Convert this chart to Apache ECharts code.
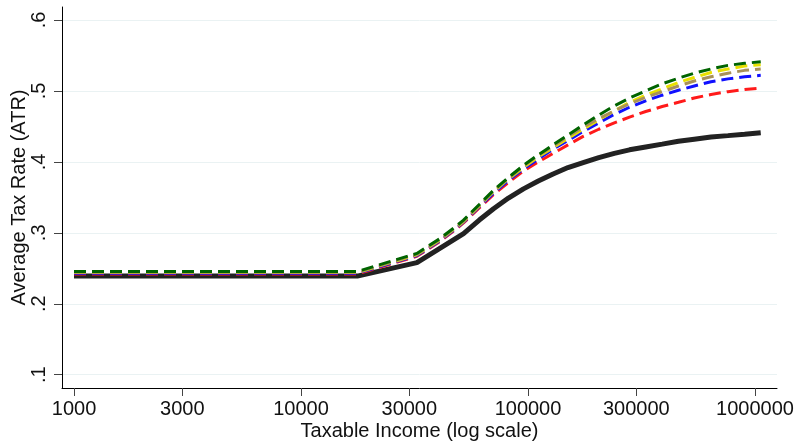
<!DOCTYPE html>
<html>
<head>
<meta charset="utf-8">
<script src="https://cdn.jsdelivr.net/npm/echarts@6/dist/echarts.min.js"></script>
<style>
  html, body { margin: 0; padding: 0; background: #fff; }
  #chart { width: 796px; height: 443px; }
</style>
</head>
<body>
<div id="chart"></div>
<script>
// taxable income points (dashed series share one grid, black has its own)
const incomeDashed = [1000, 17700, 32400, 41000, 48500, 52000, 61000, 70500, 82000, 95500,
  111000, 129000, 150000, 175000, 205000, 240000, 280000, 330000, 390000, 460000,
  540000, 640000, 760000, 900000, 1060000];
const incomeBlack = [1000, 17700, 32400, 52000, 61000, 70500, 82000, 95500,
  111000, 129000, 150000, 175000, 205000, 240000, 280000, 330000, 390000, 460000,
  540000, 640000, 760000, 900000, 1060000];

const atrRed = [0.242, 0.242, 0.267, 0.288, 0.306, 0.314, 0.335, 0.354, 0.371, 0.387,
  0.400, 0.412, 0.424, 0.436, 0.446, 0.455, 0.463, 0.471, 0.478, 0.484,
  0.490, 0.495, 0.499, 0.502, 0.504];
const atrBlue = [0.243, 0.243, 0.268, 0.289, 0.307, 0.315, 0.337, 0.356, 0.374, 0.390,
  0.404, 0.418, 0.430, 0.443, 0.455, 0.467, 0.477, 0.486, 0.494, 0.501,
  0.507, 0.513, 0.517, 0.520, 0.522];
const atrYellow = [0.244, 0.244, 0.269, 0.290, 0.308, 0.316, 0.338, 0.358, 0.376, 0.392,
  0.407, 0.420, 0.433, 0.446, 0.459, 0.472, 0.484, 0.494, 0.503, 0.512,
  0.519, 0.526, 0.531, 0.535, 0.537];
const atrTan = [0.2445, 0.2445, 0.270, 0.291, 0.309, 0.317, 0.339, 0.359, 0.377, 0.394,
  0.409, 0.422, 0.436, 0.449, 0.461, 0.472, 0.482, 0.491, 0.499, 0.507,
  0.514, 0.520, 0.525, 0.529, 0.531];
const atrGreen = [0.2455, 0.2455, 0.271, 0.292, 0.310, 0.318, 0.340, 0.360, 0.378, 0.395,
  0.410, 0.424, 0.438, 0.452, 0.466, 0.479, 0.490, 0.500, 0.510, 0.518,
  0.525, 0.531, 0.536, 0.539, 0.541];
const atrBlack = [0.239, 0.239, 0.258, 0.299, 0.318, 0.334, 0.349, 0.362,
  0.373, 0.383, 0.392, 0.399, 0.406, 0.412, 0.417, 0.421, 0.425, 0.429,
  0.432, 0.435, 0.437, 0.439, 0.441];

const xTicks = [1000, 3000, 10000, 30000, 100000, 300000, 1000000];
const yTicks = [0.1, 0.2, 0.3, 0.4, 0.5, 0.6];

const font = "'Liberation Sans', Arial, sans-serif";

const pairs = (xs, ys) => xs.map((x, i) => [Math.log10(x), ys[i]]);

const dashed = (name, color, xs, ys) => ({
  name,
  type: "line",
  data: pairs(xs, ys),
  showSymbol: false,
  symbol: "none",
  lineStyle: { color, width: 3, type: [12, 6], cap: "butt" },
});

const chart = echarts.init(document.getElementById("chart"));
chart.setOption({
  animation: false,
  backgroundColor: "#fff",
  grid: { left: 62, right: 19, top: 7, bottom: 55, outerBoundsMode: "none", containLabel: false },
  xAxis: {
    type: "value",
    min: 2.947,
    max: 6.097,
    name: "Taxable Income (log scale)",
    nameLocation: "middle",
    nameGap: 33,
    nameMoveOverlap: false,
    nameTextStyle: { fontFamily: font, fontSize: 20, color: "#111" },
    axisLine: { lineStyle: { color: "#000", width: 1 } },
    axisTick: {
      length: 8,
      lineStyle: { color: "#444" },
      customValues: xTicks.map((v) => Math.log10(v)),
    },
    axisLabel: {
      customValues: xTicks.map((v) => Math.log10(v)),
      formatter: (v) => String(Math.round(Math.pow(10, v))),
      fontFamily: font,
      fontSize: 20,
      color: "#111",
      margin: 11,
    },
    splitLine: { show: false },
  },
  yAxis: {
    type: "value",
    min: 0.0813,
    max: 0.6183,
    name: "Average Tax Rate (ATR)",
    nameLocation: "middle",
    nameGap: 33,
    nameMoveOverlap: false,
    nameTextStyle: { fontFamily: font, fontSize: 20, color: "#111" },
    axisLine: { show: true, lineStyle: { color: "#000", width: 1 } },
    axisTick: {
      show: true,
      length: 8,
      lineStyle: { color: "#444" },
      customValues: yTicks,
    },
    axisLabel: {
      customValues: yTicks,
      rotate: 90,
      formatter: (v) => String(+v.toFixed(1)).replace(/^0/, ""),
      fontFamily: font,
      fontSize: 20,
      color: "#111",
      margin: 13,
    },
    splitLine: { show: true, lineStyle: { color: "#eaf2f3", width: 1 } },
  },
  series: [
    {
      name: "black",
      type: "line",
      data: pairs(incomeBlack, atrBlack),
      showSymbol: false,
      symbol: "none",
      lineStyle: { color: "#222", width: 5 },
    },
    dashed("red", "#ff1a1a", incomeDashed, atrRed),
    dashed("blue", "#1010ff", incomeDashed, atrBlue),
    dashed("yellow", "#e8e000", incomeDashed, atrYellow),
    dashed("tan", "#a8915a", incomeDashed, atrTan),
    dashed("green", "#006400", incomeDashed, atrGreen),
  ],
});
</script>
</body>
</html>
